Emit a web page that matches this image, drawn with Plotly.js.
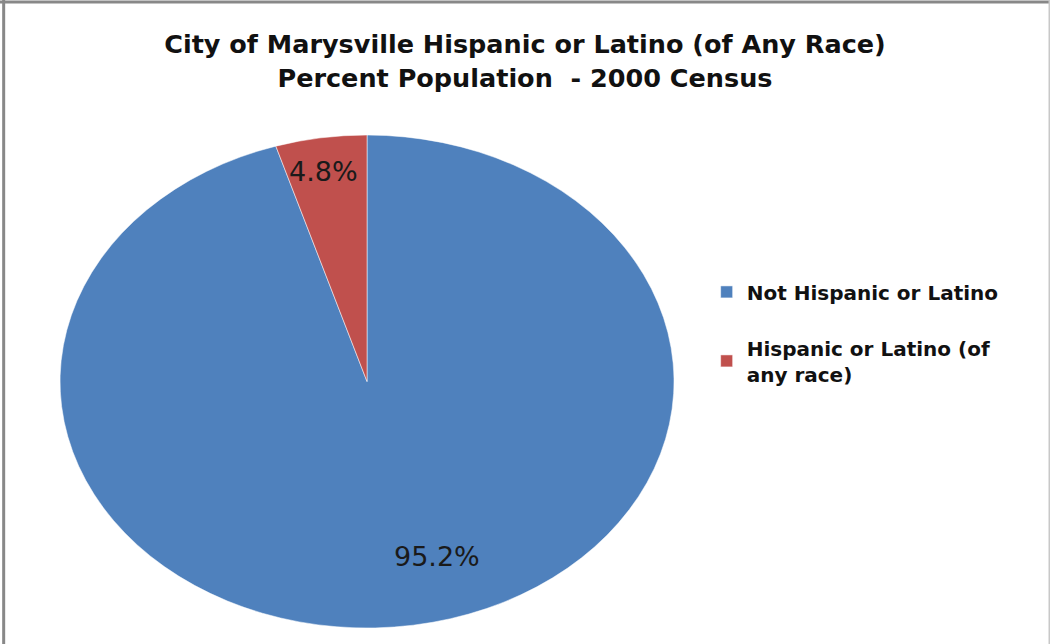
<!DOCTYPE html>
<html>
<head>
<meta charset="utf-8">
<script src="https://cdn.plot.ly/plotly-3.0.1.min.js"></script>
<style>
  html, body { margin: 0; padding: 0; background: #ffffff; }
  #chart { width: 1050px; height: 644px; }
</style>
</head>
<body>
<div id="chart"></div>
<script>
// ---- data ----
var categories = ["Not Hispanic or Latino", "Hispanic or Latino (of<br>any race)"];
var percents = [95.2, 4.8];
var sliceColors = ["#4F81BD", "#C0504D"];
var chartTitle = "City of Marysville Hispanic or Latino (of Any Race)<br>Percent Population  - 2000 Census";

// ---- geometry / style ----
var W = 1050, H = 644;
var pieDomain = { x: [0.1148, 0.5843], y: [0.0248, 0.7904] };
var stretchX = 614 / 493;           // the reference pie is an ellipse
var labelRadius = [0.72, 0.86];     // relative radius for label placement
var labelXShift = [37, -4];

var trace = {
  type: "pie",
  labels: categories,
  values: percents,
  sort: false,
  direction: "clockwise",
  rotation: 0,
  marker: { colors: sliceColors, line: { color: "rgba(255,255,255,0.5)", width: 1 } },
  textinfo: "none",
  hoverinfo: "label+percent",
  domain: pieDomain
};

// label annotations, positioned from the slice angles
var cxP = (pieDomain.x[0] + pieDomain.x[1]) / 2;
var cyP = (pieDomain.y[0] + pieDomain.y[1]) / 2;
var rPix = Math.min((pieDomain.x[1] - pieDomain.x[0]) * W, (pieDomain.y[1] - pieDomain.y[0]) * H) / 2;
var rxP = rPix * stretchX / W, ryP = rPix / H;
var total = percents.reduce(function (a, b) { return a + b; }, 0);
var annotations = [];
var cum = 0;
percents.forEach(function (v, i) {
  var mid = (cum + v / 2) / total * 2 * Math.PI;
  cum += v;
  annotations.push({
    xref: "paper", yref: "paper",
    x: cxP + rxP * labelRadius[i] * Math.sin(mid),
    y: cyP + ryP * labelRadius[i] * Math.cos(mid),
    xanchor: "center", yanchor: "middle",
    xshift: labelXShift[i],
    text: v.toFixed(1) + "%",
    showarrow: false,
    font: { family: "DejaVu Sans, sans-serif", size: 27, color: "#1a1a1a" }
  });
});

var layout = {
  width: W, height: H,
  margin: { l: 0, r: 0, t: 0, b: 0 },
  paper_bgcolor: "#ffffff",
  title: {
    text: chartTitle,
    x: 0.5, xanchor: "center",
    y: 0.917, yanchor: "middle",
    font: { family: "DejaVu Sans, sans-serif", size: 25.5, color: "#111111", weight: "bold" }
  },
  showlegend: true,
  legend: {
    x: 0.673, xanchor: "left",
    y: 0.577, yanchor: "top",
    font: { family: "DejaVu Sans, sans-serif", size: 20, color: "#111111", weight: "bold" },
    bgcolor: "rgba(0,0,0,0)"
  },
  annotations: annotations,
  shapes: [
    { type: "line", xref: "paper", yref: "paper", x0: 0.0035, x1: 0.0035, y0: 0, y1: 1, line: { color: "#888888", width: 3 } },
    { type: "line", xref: "paper", yref: "paper", x0: 0, x1: 1, y0: 0.997, y1: 0.997, line: { color: "#888888", width: 3 } },
    { type: "line", xref: "paper", yref: "paper", x0: 0.9993, x1: 0.9993, y0: 0, y1: 1, line: { color: "#c8c8c8", width: 1.5 } }
  ]
};

Plotly.newPlot("chart", [trace], layout, { displayModeBar: false, staticPlot: true }).then(function (gd) {
  // stretch pie slices horizontally into an ellipse around the pie centre
  var paths = gd.querySelectorAll(".pielayer path.surface");
  var minX = Infinity, maxX = -Infinity;
  paths.forEach(function (p) {
    var b = p.getBBox();
    minX = Math.min(minX, b.x); maxX = Math.max(maxX, b.x + b.width);
  });
  var c = (minX + maxX) / 2;
  paths.forEach(function (p) {
    p.setAttribute("transform", "matrix(" + stretchX + ",0,0,1," + (c * (1 - stretchX)) + ",0)");
    p.style.vectorEffect = "non-scaling-stroke";
  });
  // extra spacing between legend entries (and no clipping of the legend box)
  gd.querySelectorAll(".legend [clip-path]").forEach(function (el) { el.removeAttribute("clip-path"); });
  var items = gd.querySelectorAll(".legend .traces");
  items.forEach(function (it, i) {
    var t = it.getAttribute("transform") || "";
    var m = /translate\(([-\d.]+),\s*([-\d.]+)\)/.exec(t);
    if (m && i > 0) {
      it.setAttribute("transform", "translate(" + m[1] + "," + (parseFloat(m[2]) + 27 * i) + ")");
    }
  });
});
</script>
</body>
</html>
